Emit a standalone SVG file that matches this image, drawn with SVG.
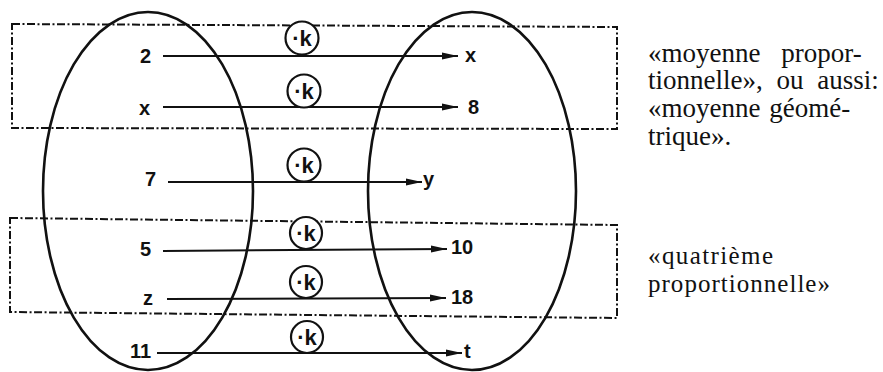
<svg xmlns="http://www.w3.org/2000/svg" width="883" height="372" viewBox="0 0 883 372">
<style>
.ell{fill:none;stroke:#111;stroke-width:2.6}
.dd{fill:none;stroke:#111;stroke-width:2;stroke-dasharray:8 2.5 2 2.5}
.arr{stroke:#111;stroke-width:2;fill:none}
.op circle{fill:#fff;stroke:#111;stroke-width:2.2}
.op text{font-family:"Liberation Sans","DejaVu Sans",sans-serif;font-weight:bold;font-size:22px;fill:#111;text-anchor:middle}
.lb{font-family:"Liberation Sans","DejaVu Sans",sans-serif;font-weight:bold;font-size:20px;fill:#111}
.tx{font-family:"Liberation Serif","Times New Roman",serif;font-size:27px;fill:#111}
.tx2{font-family:"Liberation Serif","Times New Roman",serif;font-size:25px;fill:#111}
</style>
<defs>
<marker id="ah" viewBox="0 0 16 8" refX="16" refY="4" markerWidth="16" markerHeight="8" markerUnits="userSpaceOnUse" orient="auto">
<path d="M0,0.5 L16,4 L0,7.5 Z" fill="#111"/>
</marker>
</defs>

<g id="frames">
<path class="dd" d="M12,24 L617,27 L617,129 L12,128 Z"/>
<path class="dd" d="M10,218 L617,225 L617,318 L10,312 Z"/>
</g>

<g id="set-left"><ellipse class="ell" cx="148" cy="191" rx="105" ry="179"/></g>
<g id="set-right"><ellipse class="ell" cx="472" cy="191" rx="104" ry="179"/></g>

<g id="connectors">
<line class="arr" x1="163" y1="56" x2="458" y2="56" marker-end="url(#ah)"/>
<line class="arr" x1="163" y1="107" x2="458" y2="107" marker-end="url(#ah)"/>
<line class="arr" x1="168" y1="182" x2="422" y2="182" marker-end="url(#ah)"/>
<line class="arr" x1="163" y1="251" x2="447" y2="249" marker-end="url(#ah)"/>
<line class="arr" x1="167" y1="299" x2="446" y2="298" marker-end="url(#ah)"/>
<line class="arr" x1="157" y1="353" x2="462" y2="353" marker-end="url(#ah)"/>
</g>

<g id="ops" class="op">
<g id="op1"><circle cx="302" cy="38" r="16.5"/><text x="302" y="46">·k</text></g>
<g id="op2"><circle cx="304" cy="91" r="16.5"/><text x="304" y="99">·k</text></g>
<g id="op3"><circle cx="304" cy="165" r="16.5"/><text x="304" y="173">·k</text></g>
<g id="op4"><circle cx="306" cy="233" r="16"/><text x="306" y="241">·k</text></g>
<g id="op5"><circle cx="306" cy="282" r="16"/><text x="306" y="290">·k</text></g>
<g id="op6"><circle cx="307" cy="337" r="16"/><text x="307" y="345">·k</text></g>
</g>

<g id="labels-left">
<text class="lb" x="140" y="63">2</text>
<text class="lb" x="139" y="115" font-size="24">x</text>
<text class="lb" x="145" y="186">7</text>
<text class="lb" x="140" y="256">5</text>
<text class="lb" x="143" y="305" font-size="24">z</text>
<text class="lb" x="130" y="358">11</text>
</g>

<g id="labels-right">
<text class="lb" x="465" y="62" font-size="24">x</text>
<text class="lb" x="468" y="114">8</text>
<text class="lb" x="423" y="186" font-size="24">y</text>
<text class="lb" x="451" y="254">10</text>
<text class="lb" x="451" y="304">18</text>
<text class="lb" x="464" y="358" font-size="24">t</text>
</g>

<g id="note1" class="tx">
<text x="648" y="62" word-spacing="14">«moyenne propor-</text>
<text x="648" y="89" word-spacing="7">tionnelle», ou aussi:</text>
<text x="648" y="117" word-spacing="2">«moyenne géomé-</text>
<text x="648" y="145">trique».</text>
</g>

<g id="note2" class="tx2">
<text x="648" y="264" textLength="125" lengthAdjust="spacing">«quatrième</text>
<text x="648" y="292" textLength="182" lengthAdjust="spacing">proportionnelle»</text>
</g>
</svg>
